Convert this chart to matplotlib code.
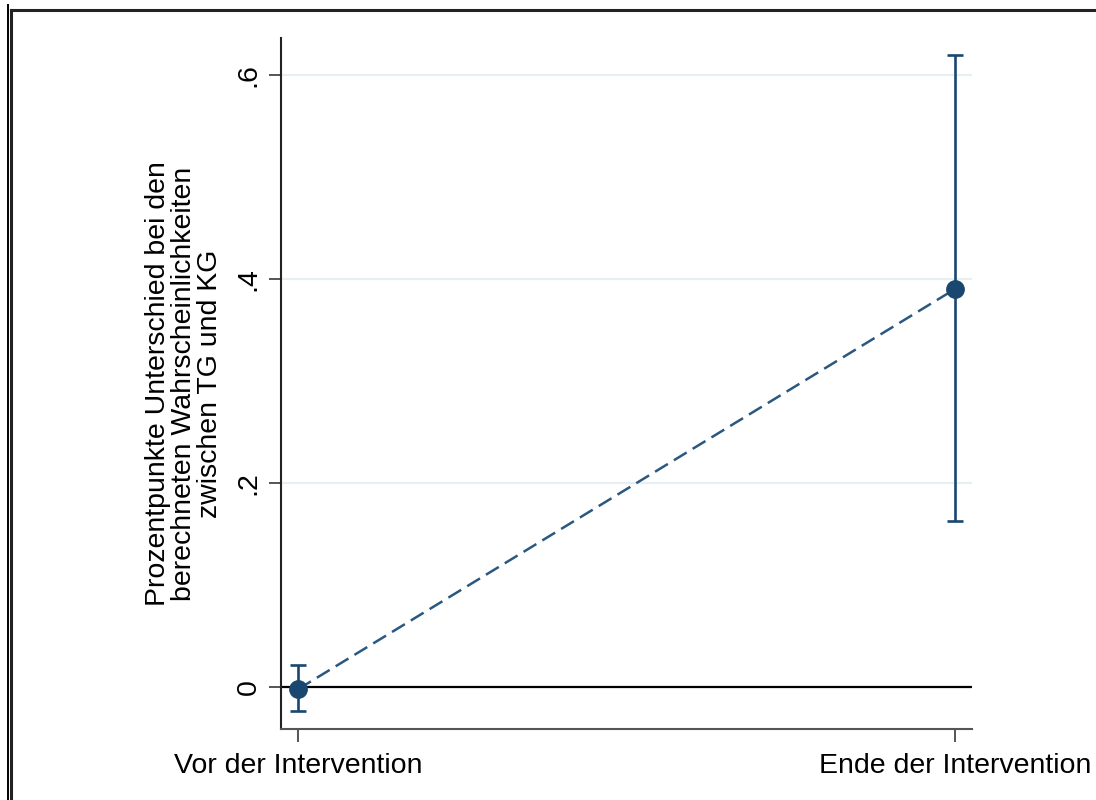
import matplotlib.pyplot as plt
from matplotlib.lines import Line2D

plt.rcParams['font.family'] = ['Liberation Sans', 'DejaVu Sans']

zeitpunkte = ['Vor der Intervention', 'Ende der Intervention']
differenz = [-0.002, 0.390]
ci_unten = [-0.0235, 0.163]
ci_oben = [0.0216, 0.619]
yticks = [0, 0.2, 0.4, 0.6]
ytick_labels = ['0', '.2', '.4', '.6']

navy = '#1a476f'

fig = plt.figure(figsize=(10.96, 8.0), dpi=100)
ax = fig.add_axes([281 / 1096, 1 - 729 / 800, (972 - 281) / 1096, (729 - 38) / 800])

x = list(range(len(zeitpunkte)))
err_lo = [d - lo for d, lo in zip(differenz, ci_unten)]
err_hi = [hi - d for d, hi in zip(differenz, ci_oben)]

for y in yticks[1:]:
    ax.axhline(y, color='#e6eff1', lw=1.6, zorder=0)
ax.axhline(0, color='black', lw=1.6, zorder=1)

ax.plot(x, differenz, color='#2a5880', lw=1.8, dashes=(6, 2.8), zorder=2)
ax.errorbar(x, differenz, yerr=[err_lo, err_hi], fmt='o', color=navy,
            ms=12.5, elinewidth=1.9, capsize=5.5, capthick=1.9, zorder=3)

ax.set_xlim(-0.026, 1.026)
ax.set_ylim(-0.041, 0.636)
ax.set_xticks(x)
ax.set_xticklabels(zeitpunkte, fontsize=20.5)
ax.set_yticks(yticks)
ax.set_yticklabels(ytick_labels, fontsize=20.5, rotation=90, va='center')
ax.tick_params(axis='both', length=9, width=1.4, color='#555555', pad=5)
ax.tick_params(axis='x', pad=8)

for side in ['top', 'right']:
    ax.spines[side].set_visible(False)
ax.spines['left'].set_color('#222222')
ax.spines['left'].set_linewidth(1.5)
ax.spines['bottom'].set_color('#555555')
ax.spines['bottom'].set_linewidth(1.5)

ax.set_ylabel('Prozentpunkte Unterschied bei den\nberechneten Wahrscheinlichkeiten\nzwischen TG und KG',
              fontsize=20.5, linespacing=1.0, labelpad=9)

# outer frame lines
fig.add_artist(Line2D([7.5 / 1096, 7.5 / 1096], [0, 1 - 5 / 800], color='black', lw=1.4,
                      transform=fig.transFigure))
fig.add_artist(Line2D([11 / 1096, 11 / 1096], [0, 1 - 10 / 800], color='#222222', lw=2.2,
                      transform=fig.transFigure))
fig.add_artist(Line2D([11 / 1096, 1], [1 - 10 / 800, 1 - 10 / 800], color='#222222', lw=2.2,
                      transform=fig.transFigure))

fig.savefig('out.png', dpi=100)
